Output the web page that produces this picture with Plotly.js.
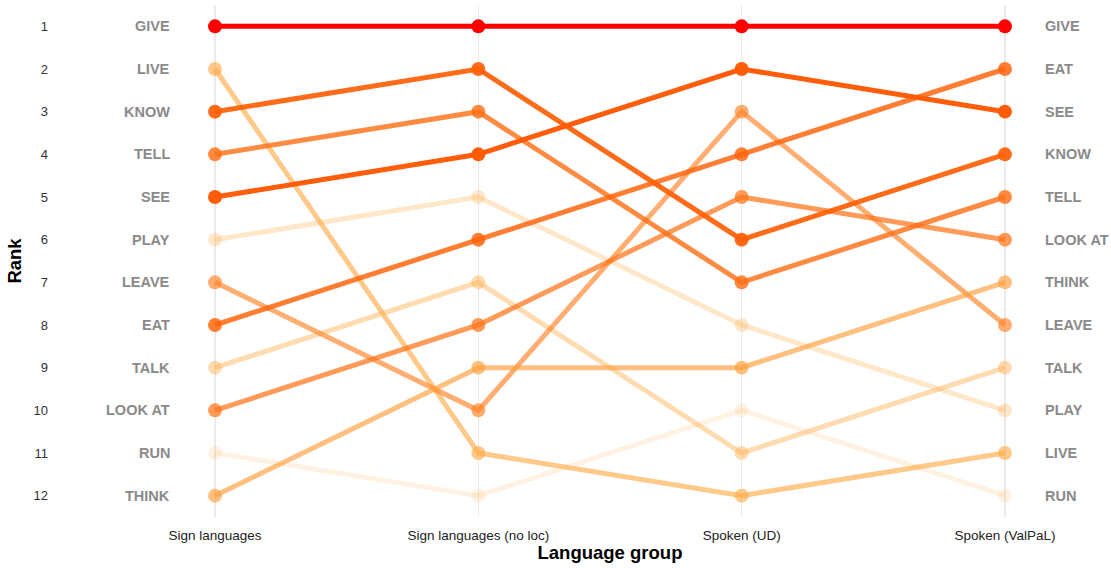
<!DOCTYPE html>
<html><head><meta charset="utf-8">
<script src="https://cdn.plot.ly/plotly-3.0.1.min.js"></script>
<style>html,body{margin:0;padding:0;background:#fff}#chart{width:1111px;height:568px}</style>
</head><body><div id="chart"></div>
<script>
const groups = ["Sign languages", "Sign languages (no loc)", "Spoken (UD)", "Spoken (ValPaL)"];
const verbs = ["GIVE", "LIVE", "KNOW", "TELL", "SEE", "PLAY", "LEAVE", "EAT", "TALK", "LOOK AT", "RUN", "THINK"];
const rankSign = [1, 2, 3, 4, 5, 6, 7, 8, 9, 10, 11, 12];
const rankSignNoLoc = [1, 11, 2, 3, 4, 5, 10, 6, 7, 8, 12, 9];
const rankSpokenUD = [1, 12, 6, 7, 2, 8, 3, 4, 11, 5, 10, 9];
const rankSpokenValPaL = [1, 11, 4, 5, 3, 10, 8, 2, 9, 6, 12, 7];
const rankTicks = [1, 2, 3, 4, 5, 6, 7, 8, 9, 10, 11, 12];

// style: colour and opacity per verb
const verbColor = {
  "GIVE": [255, 0, 0, 1],
  "SEE": [255, 90, 5, 0.98],
  "KNOW": [255, 95, 5, 0.92],
  "EAT": [255, 100, 10, 0.83],
  "TELL": [255, 110, 20, 0.8],
  "LOOK AT": [255, 115, 25, 0.72],
  "LEAVE": [255, 130, 40, 0.66],
  "THINK": [255, 160, 60, 0.66],
  "LIVE": [255, 170, 70, 0.64],
  "TALK": [255, 175, 80, 0.45],
  "PLAY": [255, 175, 80, 0.3],
  "RUN": [255, 175, 80, 0.16]
};
function rgba(c) { return "rgba(" + c[0] + "," + c[1] + "," + c[2] + "," + c[3] + ")"; }

const series = [rankSign, rankSignNoLoc, rankSpokenUD, rankSpokenValPaL];
const idx = verbs.map((v, i) => i).sort((a, b) => verbColor[verbs[a]][3] - verbColor[verbs[b]][3]);

const traces = idx.map(i => {
  const col = rgba(verbColor[verbs[i]]);
  return {
    type: "scatter",
    mode: "lines+markers",
    name: verbs[i],
    x: groups,
    y: series.map(s => s[i]),
    line: {color: col, width: 5},
    marker: {color: col, size: 14, line: {width: 0}},
    hoverinfo: "name+y",
    showlegend: false
  };
});

const labelFont = {family: "Liberation Sans, Arial, sans-serif", size: 14.5, color: "#8a8a8a"};
const annotations = [];
verbs.forEach((v, i) => {
  annotations.push({xref: "x", yref: "y", x: -0.165, y: rankSign[i], text: "<b>" + v + "</b>",
    showarrow: false, xanchor: "right", yanchor: "middle", font: labelFont});
  annotations.push({xref: "x", yref: "y", x: 3.143, y: rankSpokenValPaL[i], text: "<b>" + v + "</b>",
    showarrow: false, xanchor: "left", yanchor: "middle", font: labelFont});
});

const layout = {
  width: 1111, height: 568,
  margin: {l: 165, r: 56, t: 5, b: 51},
  paper_bgcolor: "#ffffff", plot_bgcolor: "#ffffff",
  font: {family: "Liberation Sans, Arial, sans-serif", color: "#333"},
  showlegend: false,
  xaxis: {
    type: "category", categoryorder: "array", categoryarray: groups,
    range: [-0.19, 3.19],
    showgrid: true, gridcolor: "#ebebeb", gridwidth: 1.5,
    zeroline: false, showline: false, ticks: "",
    ticklabelstandoff: 8,
    tickfont: {size: 13.5, color: "#222"},
    title: {text: "<b>Language group</b>", font: {size: 18.5, color: "#000"}, standoff: 4}
  },
  yaxis: {
    range: [12.5, 0.5], tickmode: "array", tickvals: rankTicks, ticktext: rankTicks.map(String),
    showgrid: false, zeroline: false, showline: false, ticks: "",
    ticklabelstandoff: 116,
    tickfont: {size: 13, color: "#333"},
    title: {text: "<b>Rank</b>", font: {size: 18.5, color: "#000"}, standoff: 7}
  },
  annotations: annotations
};

Plotly.newPlot("chart", traces, layout, {displayModeBar: false, staticPlot: true});
</script>
</body></html>
